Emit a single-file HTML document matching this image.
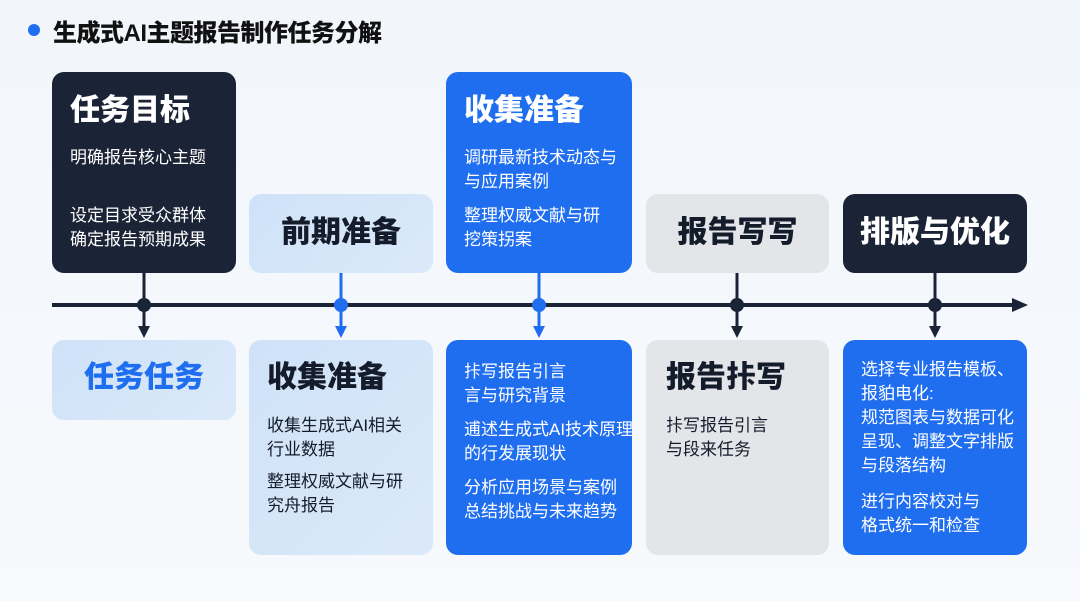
<!DOCTYPE html>
<html><head><meta charset="utf-8"><style>
*{margin:0;padding:0;box-sizing:border-box}
body{width:1080px;height:601px;overflow:hidden;background:linear-gradient(180deg,#f2f6fb,#f7f9fc);font-family:"Liberation Sans","Noto Sans CJK SC",sans-serif;position:relative}
.b{position:absolute;border-radius:12px}
.h{font-weight:900;font-size:30px;line-height:34px}
.t{font-size:17px;line-height:24px}
.dark{background:#1b2436;color:#fff}
.blue{background:#1f6ef0;color:#fff}
.lb{background:linear-gradient(135deg,#cfe2f8,#dbe9fa);color:#141c2b}
.gr{background:#e3e5e9;color:#141c2b}
</style></head><body>
<div style="position:absolute;left:28px;top:24px;width:12px;height:12px;border-radius:50%;background:#1f6ef0"></div>
<div style="position:absolute;left:53px;top:13px;font-size:24px;font-weight:900;color:#111;letter-spacing:-0.5px">生成式AI主题报告制作任务分解</div>

<div class="b dark" style="left:52px;top:72px;width:184px;height:201px">
<div class="h" style="position:absolute;left:18px;top:22px">任务目标</div>
<div class="t" style="position:absolute;left:18px;top:74px">明确报告核心主题</div>
<div class="t" style="position:absolute;left:18px;top:132px">设定目求受众群体<br>确定报告预期成果</div>
</div>
<div class="b lb" style="left:249px;top:194px;width:184px;height:79px"><div class="h" style="text-align:center;margin-top:22px">前期准备</div></div>
<div class="b blue" style="left:446px;top:72px;width:186px;height:201px">
<div class="h" style="position:absolute;left:18px;top:22px">收集准备</div>
<div class="t" style="position:absolute;left:18px;top:74px">调研最新技术动态与<br>与应用案例</div>
<div class="t" style="position:absolute;left:18px;top:132px">整理权威文献与研<br>挖策拐案</div>
</div>
<div class="b gr" style="left:646px;top:194px;width:183px;height:79px"><div class="h" style="text-align:center;margin-top:22px">报告写写</div></div>
<div class="b dark" style="left:843px;top:194px;width:184px;height:79px"><div class="h" style="text-align:center;margin-top:22px">排版与优化</div></div>

<svg style="position:absolute;left:0;top:0" width="1080" height="601">
<line x1="52" y1="305" x2="1015" y2="305" stroke="#1b2436" stroke-width="4"/>
<polygon points="1012,298 1028,305 1012,312" fill="#1b2436"/>
<g stroke-width="3">
<line x1="144" y1="273" x2="144" y2="330" stroke="#1b2436"/><circle cx="144" cy="305" r="7" fill="#1b2436"/><polygon points="138,326 150,326 144,338" fill="#1b2436"/>
<line x1="341" y1="273" x2="341" y2="330" stroke="#1f6ef0"/><circle cx="341" cy="305" r="7" fill="#1f6ef0"/><polygon points="335,326 347,326 341,338" fill="#1f6ef0"/>
<line x1="539" y1="273" x2="539" y2="330" stroke="#1f6ef0"/><circle cx="539" cy="305" r="7" fill="#1f6ef0"/><polygon points="533,326 545,326 539,338" fill="#1f6ef0"/>
<line x1="737" y1="273" x2="737" y2="330" stroke="#1b2436"/><circle cx="737" cy="305" r="7" fill="#1b2436"/><polygon points="731,326 743,326 737,338" fill="#1b2436"/>
<line x1="935" y1="273" x2="935" y2="330" stroke="#1b2436"/><circle cx="935" cy="305" r="7" fill="#1b2436"/><polygon points="929,326 941,326 935,338" fill="#1b2436"/>
</g></svg>

<div class="b lb" style="left:52px;top:340px;width:184px;height:80px"><div class="h" style="text-align:center;margin-top:21px;color:#1f6ef0">任务任务</div></div>
<div class="b lb" style="left:249px;top:340px;width:184px;height:215px">
<div class="h" style="position:absolute;left:18px;top:21px">收集准备</div>
<div class="t" style="position:absolute;left:18px;top:74px">收集生成式AI相关<br>行业数据</div>
<div class="t" style="position:absolute;left:18px;top:130px">整理权威文献与研<br>究舟报告</div>
</div>
<div class="b blue" style="left:446px;top:340px;width:186px;height:215px">
<div class="t" style="position:absolute;left:18px;top:20px">拤写报告引言<br>言与研究背景</div>
<div class="t" style="position:absolute;left:18px;top:78px;white-space:nowrap">逋述生成式AI技术原理<br>的行发展现状</div>
<div class="t" style="position:absolute;left:18px;top:136px">分析应用场景与案例<br>总结挑战与未来趋势</div>
</div>
<div class="b gr" style="left:646px;top:340px;width:183px;height:215px">
<div class="h" style="position:absolute;left:20px;top:21px">报告拤写</div>
<div class="t" style="position:absolute;left:20px;top:74px">拤写报告引言<br>与段来任务</div>
</div>
<div class="b blue" style="left:843px;top:340px;width:184px;height:215px">
<div class="t" style="position:absolute;left:18px;top:18px;width:170px;white-space:nowrap">选择专业报告模板、<br>报貃电化:<br>规范图表与数据可化<br>呈现、调整文字排版<br>与段落结构</div>
<div class="t" style="position:absolute;left:18px;top:150px">进行内容校对与<br>格式统一和检查</div>
</div>
</body></html>
